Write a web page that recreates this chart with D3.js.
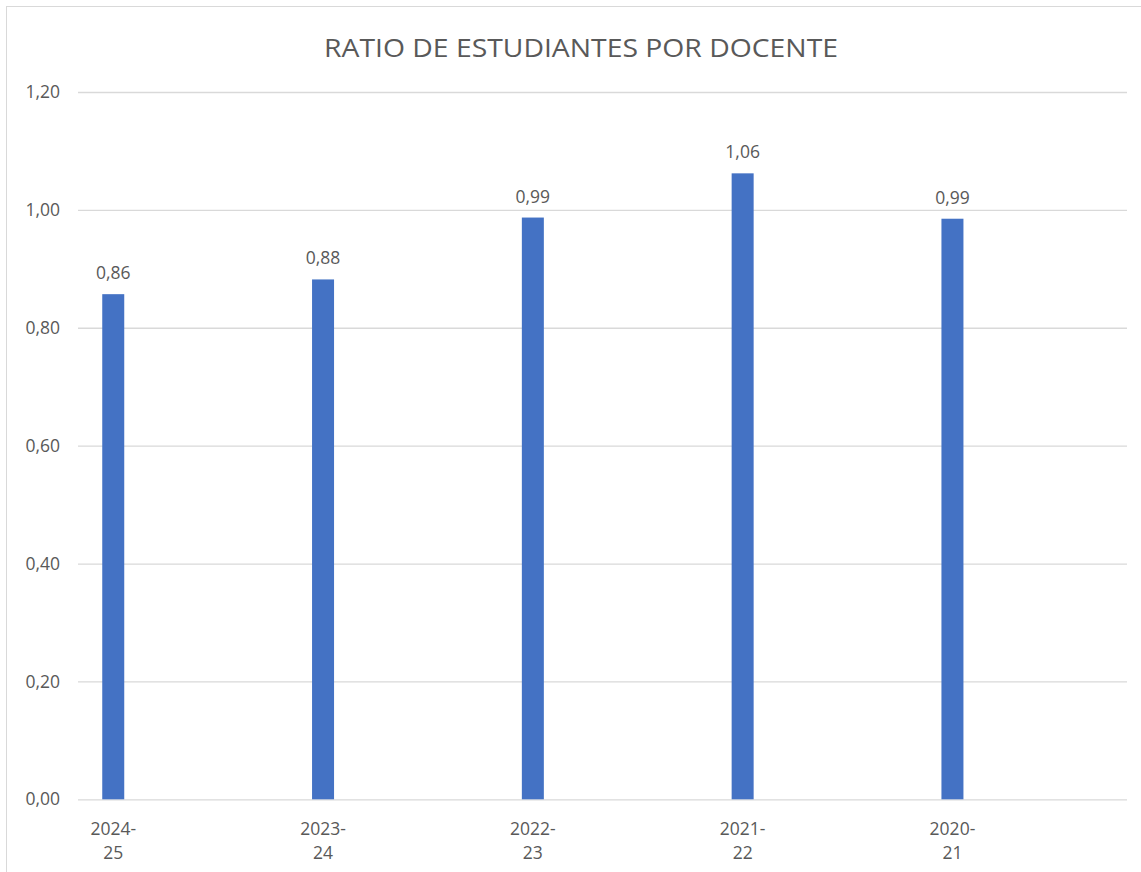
<!DOCTYPE html>
<html>
<head>
<meta charset="utf-8">
<script src="https://cdn.jsdelivr.net/npm/d3@7"></script>
<style>
  html, body { margin: 0; padding: 0; background: #fff; }
  svg { display: block; }
  text { font-family: "Open Sans", "Noto Sans", sans-serif; fill: #595959; }
</style>
</head>
<body>
<svg id="chart" width="1141" height="872"></svg>
<script>
const title = "RATIO DE ESTUDIANTES POR DOCENTE";
const categories = ["2024-25", "2023-24", "2022-23", "2021-22", "2020-21"];
const categoryLines = [["2024-", "25"], ["2023-", "24"], ["2022-", "23"], ["2021-", "22"], ["2020-", "21"]];
const values = [0.857, 0.882, 0.987, 1.062, 0.985];
const valueLabels = ["0,86", "0,88", "0,99", "1,06", "0,99"];
const yTicks = [0, 0.2, 0.4, 0.6, 0.8, 1.0, 1.2];
const yTickLabels = ["0,00", "0,20", "0,40", "0,60", "0,80", "1,00", "1,20"];

const svg = d3.select("#chart");
const W = 1141, H = 872;
const plot = { left: 78, right: 1127, top: 92, bottom: 799.3 };

// chart border
svg.append("rect")
  .attr("x", 6.5).attr("y", 6.5)
  .attr("width", W + 10).attr("height", H + 10)
  .attr("fill", "#fff").attr("stroke", "#d9d9d9").attr("stroke-width", 1);

const y = d3.scaleLinear().domain([0, 1.2]).range([plot.bottom, plot.top]);
const xBand = d3.scaleBand().domain(categories).range([plot.left, plot.right]).paddingInner(0).paddingOuter(0);
// bars sit toward the left part of each category band (as in the source chart)
const barOffset = 0.168;
const barW = 22;
const cx = c => xBand(c) + xBand.bandwidth() * barOffset;

// gridlines
const yAxis = d3.axisLeft(y).tickValues(yTicks)
  .tickSize(-(plot.right - plot.left))
  .tickFormat((d, i) => yTickLabels[i]);
const gy = svg.append("g").attr("transform", `translate(${plot.left},0)`).call(yAxis);
gy.select(".domain").remove();
gy.selectAll(".tick line").attr("stroke", "#d9d9d9").attr("stroke-width", 1.3);
gy.selectAll(".tick text")
  .attr("x", -18).attr("dy", "0.32em")
  .style("font-size", "17.5px").style("fill", "#595959");

// title
svg.append("text")
  .attr("x", 581).attr("y", 57)
  .attr("text-anchor", "middle")
  .style("font-size", "26px").style("font-weight", 400)
  .attr("textLength", 514).attr("lengthAdjust", "spacingAndGlyphs")
  .text(title);

// bars
svg.append("g").selectAll("rect").data(values).join("rect")
  .attr("x", (d, i) => cx(categories[i]) - barW / 2)
  .attr("y", d => y(d))
  .attr("width", barW)
  .attr("height", d => y(0) - y(d))
  .attr("fill", "#4472C4");

// value labels
svg.append("g").selectAll("text").data(values).join("text")
  .attr("x", (d, i) => cx(categories[i]))
  .attr("y", d => y(d) - 15)
  .attr("text-anchor", "middle")
  .style("font-size", "17.5px")
  .text((d, i) => valueLabels[i]);

// category labels
const cat = svg.append("g").selectAll("text").data(categories).join("text")
  .attr("x", d => cx(d))
  .attr("y", 835)
  .attr("text-anchor", "middle")
  .style("font-size", "17.5px");
cat.each(function(d, i) {
  const t = d3.select(this);
  categoryLines[i].forEach((ln, j) => {
    t.append("tspan").attr("x", cx(d)).attr("dy", j === 0 ? 0 : 24).text(ln);
  });
});
</script>
</body>
</html>
